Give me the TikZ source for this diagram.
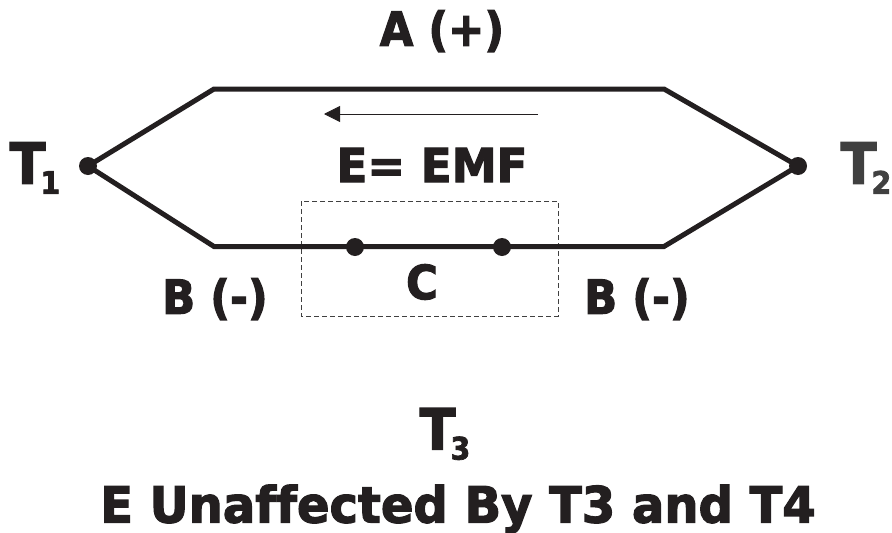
\documentclass[tikz,border=0pt]{standalone}
\usepackage{fontspec}
\usetikzlibrary{arrows.meta}
\setmainfont[FakeBold=2.4, FakeStretch=0.92, Ligatures=NoCommon]{DejaVu Sans Bold}
\newfontfamily\widefont[FakeBold=2.4, FakeStretch=0.96, Ligatures=NoCommon]{DejaVu Sans Bold}
\definecolor{inkblack}{HTML}{231F20}
\definecolor{inkgrey}{HTML}{404040}
\tikzset{
	wirelabel/.style={font=\fontsize{47}{47}\selectfont, text=inkblack, inner sep=0pt},
	templabel/.style={font=\fontsize{57}{57}\selectfont, text=inkblack, inner sep=0pt}
}
\tikzset{
	junction/.style={circle, fill=inkblack, inner sep=0pt, minimum size=18pt},
	wire/.style={line width=5pt, color=inkblack, line join=miter}
}
\newcommand{\tempsub}[1]{\kern-5pt\raisebox{-10pt}{\fontsize{31}{31}\selectfont #1}}
\begin{document}
\begin{tikzpicture}[x=1pt, y=-1pt]
	%%%%% START %%%%%
	\useasboundingbox (0, 0) rectangle (892, 533);

	\coordinate (topleft) at (214, 89);
	\coordinate (topright) at (664, 89);
	\coordinate (bottomleft) at (214, 246.5);
	\coordinate (bottomright) at (664, 246.5);

	\draw[dashed, dash pattern=on 5pt off 3pt, line width=1pt, color=inkgrey] (301, 201) rectangle (558, 316);

	\node[junction] (hotend) at (88, 166) {};
	\node[junction] (coldend) at (798, 166) {};
	\node[junction] (cleft) at (355, 247) {};
	\node[junction] (cright) at (502, 247) {};

	\draw[wire] (hotend.center) -- (topleft) -- (topright) -- (coldend.center) -- (bottomright) -- (bottomleft) -- cycle;

	\coordinate (arrowstart) at (538, 114);
	\coordinate (arrowend) at (324, 114);
	\draw[-{Triangle[length=16pt, width=16pt]}, line width=0.8pt, color=inkblack] (arrowstart) -- (arrowend);

	\node[wirelabel] (alabel) at (442, 31) {A (+)};
	\node[wirelabel, font=\fontsize{47}{47}\widefont] (emflabel) at (432, 165) {E= EMF};
	\node[wirelabel] (clabel) at (422, 282) {C};
	\node[wirelabel] (bleft) at (215, 299) {B (-)};
	\node[wirelabel] (bright) at (637, 299) {B (-)};

	\node[templabel] (tone) at (35, 168) {T\tempsub{1}};
	\node[templabel, text=inkgrey] (ttwo) at (866, 168) {T\tempsub{2}};
	\node[templabel] (tthree) at (445, 434) {T\tempsub{3}};

	\node[wirelabel, font=\fontsize{50}{50}\widefont] (caption) at (458, 509) {E Unaffected By T3 and T4};
	%%%%% END %%%%%
\end{tikzpicture}
\end{document}
